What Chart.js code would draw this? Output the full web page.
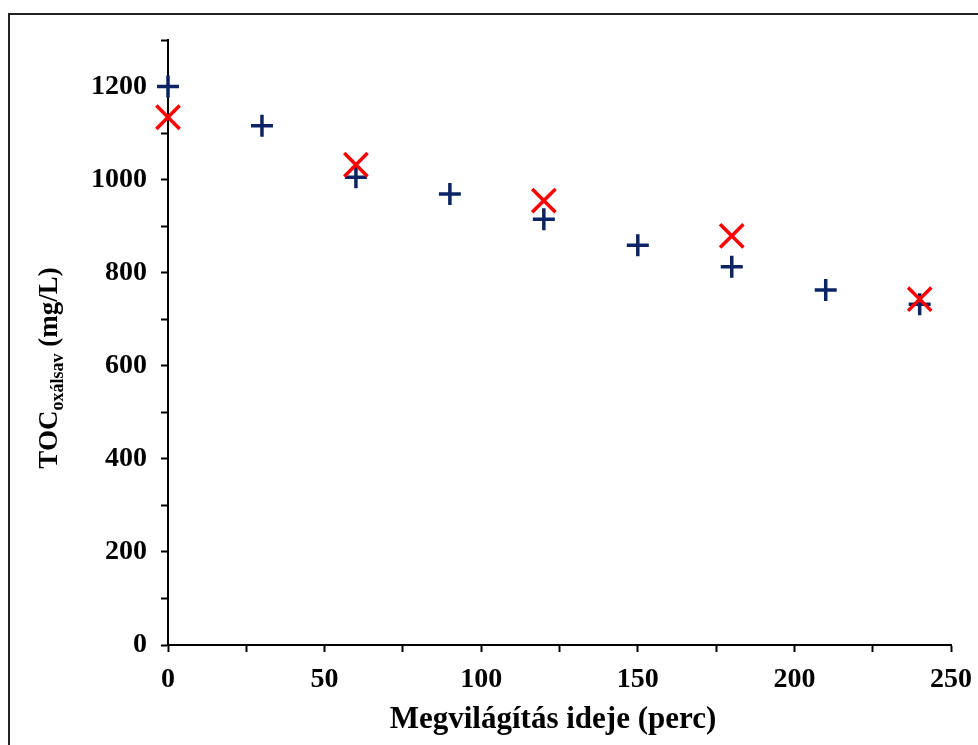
<!DOCTYPE html>
<html>
<head>
<meta charset="utf-8">
<script src="https://cdn.jsdelivr.net/npm/chart.js@4/dist/chart.umd.min.js"></script>
<style>
  html, body { margin: 0; padding: 0; background: #fff; }
  #wrap { position: relative; width: 978px; height: 745px; }
</style>
</head>
<body>
<div id="wrap"><canvas id="tocChart" width="978" height="745"></canvas></div>
<script>
// Mérési adatok: TOC (oxálsav) a megvilágítás idejének függvényében
const timeMeasured = [0, 30, 60, 90, 120, 150, 180, 210, 240];
const tocMeasured = [1200, 1116, 1005, 969, 915, 859, 813, 763, 732];

const timeComputed = [0, 60, 120, 180, 240];
const tocComputed = [1134, 1032, 955, 879, 743];

const xTickMin = 0, xTickMax = 250, xStep = 25, xLabelStep = 50;
const yTickMin = 0, yTickMax = 1300, yStep = 100, yLabelStep = 200;

const xTitle = "Megvilágítás ideje (perc)";

const FONT = "'Liberation Serif', 'Times New Roman', serif";

function toPoints(xs, ys) {
  return xs.map((x, i) => ({ x: x, y: ys[i] }));
}

// keret a teljes ábra körül (jobb és alsó széle kilóg)
const framePlugin = {
  id: "frame",
  beforeDraw(chart) {
    const ctx = chart.ctx;
    ctx.save();
    ctx.strokeStyle = "#222";
    ctx.lineWidth = 2;
    ctx.strokeRect(9, 14, 1000, 800);
    ctx.restore();
  }
};

// tengelycímek (az y címben alsó index van, ezért kézzel rajzoljuk)
const titlesPlugin = {
  id: "axisTitles",
  afterDraw(chart) {
    const ctx = chart.ctx;
    ctx.save();
    ctx.fillStyle = "#000";
    ctx.font = "bold 31px " + FONT;
    ctx.textAlign = "center";
    ctx.textBaseline = "middle";
    ctx.fillText(xTitle, 553, 720);
    ctx.restore();

    const parts = [
      { text: "TOC", font: "bold 27px " + FONT, shift: 0 },
      { text: "oxálsav", font: "bold 18px " + FONT, shift: 6 },
      { text: " (mg/L)", font: "bold 27px " + FONT, shift: 0 }
    ];
    let total = 0;
    parts.forEach(p => { ctx.font = p.font; p.w = ctx.measureText(p.text).width; total += p.w; });
    ctx.save();
    ctx.translate(57, 368);
    ctx.rotate(-Math.PI / 2);
    ctx.fillStyle = "#000";
    ctx.textAlign = "left";
    ctx.textBaseline = "alphabetic";
    let x = -total / 2;
    parts.forEach(p => {
      ctx.font = p.font;
      ctx.fillText(p.text, x, p.shift);
      x += p.w;
    });
    ctx.restore();
  }
};

new Chart(document.getElementById("tocChart"), {
  type: "scatter",
  data: {
    datasets: [
      {
        label: "számított",
        data: toPoints(timeComputed, tocComputed),
        clip: false,
        pointStyle: "crossRot",
        pointRadius: 16.5,
        pointHoverRadius: 16.5,
        borderColor: "#ff0000",
        backgroundColor: "#ff0000",
        pointBorderWidth: 3.5,
        pointHoverBorderWidth: 3.5
      },
      {
        label: "mért",
        data: toPoints(timeMeasured, tocMeasured),
        clip: false,
        pointStyle: "cross",
        pointRadius: 11,
        pointHoverRadius: 11,
        borderColor: "#0b2463",
        backgroundColor: "#0b2463",
        pointBorderWidth: 3.5,
        pointHoverBorderWidth: 3.5
      }
    ]
  },
  options: {
    responsive: false,
    animation: false,
    layout: { padding: { top: 40, right: 27, left: 0, bottom: 0 } },
    plugins: {
      legend: { display: false },
      tooltip: { enabled: false }
    },
    scales: {
      x: {
        type: "linear",
        min: xTickMin,
        max: xTickMax,
        afterFit(scale) {
          scale.height = 100;
          scale.paddingLeft = 0;
          scale.paddingRight = 0;
        },
        border: { color: "#000", width: 2 },
        grid: { drawOnChartArea: false, drawTicks: true, tickLength: 7, color: "#000", tickWidth: 2 },
        ticks: {
          stepSize: xStep,
          autoSkip: false,
          maxRotation: 0,
          padding: 11,
          color: "#000",
          font: { family: FONT, size: 28, weight: "bold" },
          callback: v => (v % xLabelStep === 0 ? v : "")
        }
      },
      y: {
        type: "linear",
        min: yTickMin,
        max: yTickMax,
        afterFit(scale) { scale.width = 168; },
        border: { color: "#000", width: 2 },
        grid: { drawOnChartArea: false, drawTicks: true, tickLength: 7, color: "#000", tickWidth: 2 },
        ticks: {
          stepSize: yStep,
          autoSkip: false,
          padding: 14,
          color: "#000",
          font: { family: FONT, size: 28, weight: "bold" },
          callback: v => (v % yLabelStep === 0 ? v : "")
        }
      }
    }
  },
  plugins: [framePlugin, titlesPlugin]
});
</script>
</body>
</html>
